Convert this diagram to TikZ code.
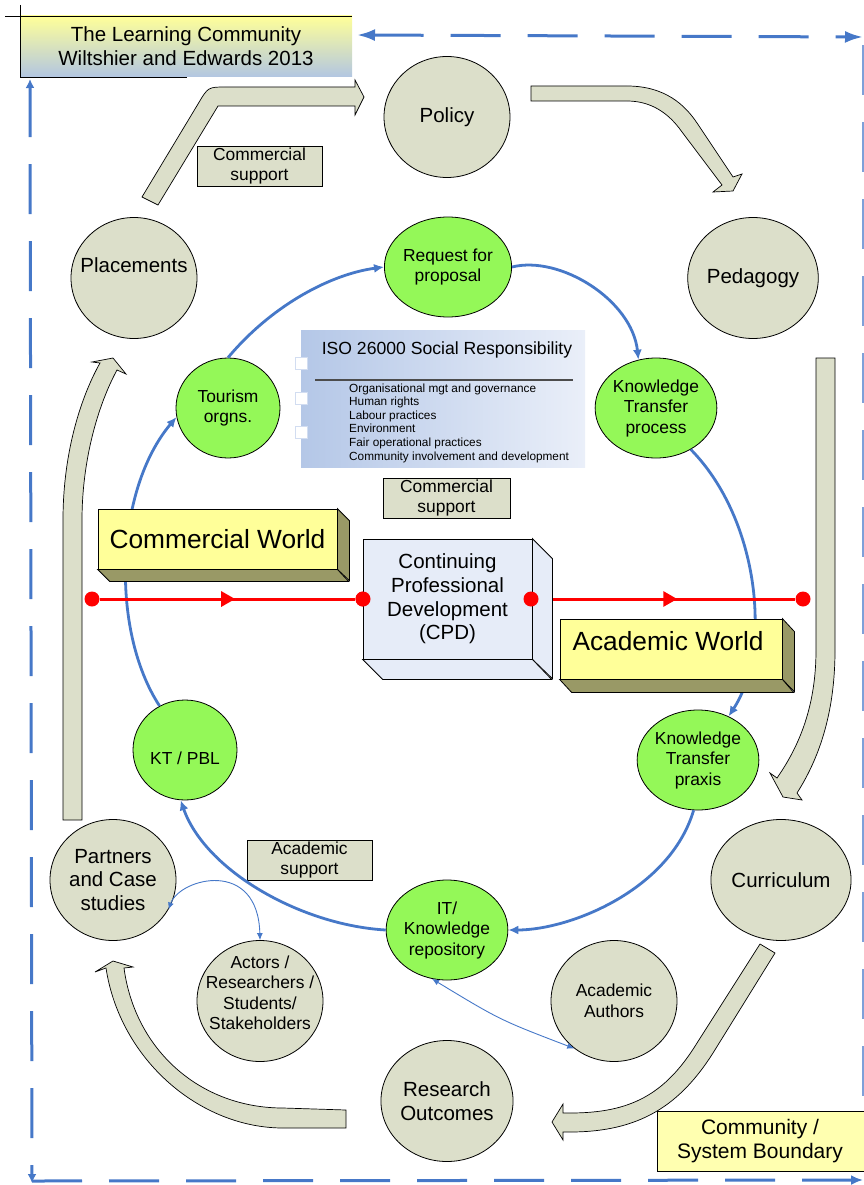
\documentclass[tikz,border=0pt]{standalone}
\usepackage{fontspec}
\setmainfont{Liberation Sans}
\usetikzlibrary{shapes.geometric,arrows.meta,decorations.markings}
\definecolor{beige}{RGB}{220,223,202}
\definecolor{lgreen}{RGB}{148,248,88}
\definecolor{bblue}{RGB}{70,120,200}
\definecolor{yel}{RGB}{255,255,153}
\definecolor{olive}{RGB}{153,153,102}
\definecolor{cpdfill}{RGB}{230,236,248}
\definecolor{isoL}{RGB}{180,199,231}
\definecolor{isoR}{RGB}{234,239,249}
\definecolor{titleB}{RGB}{178,198,226}
\definecolor{commY}{RGB}{255,255,176}
\begin{document}
\begin{tikzpicture}[x=1pt,y=-1pt,
  f20/.style={font=\fontsize{20.5}{23.7}\selectfont},
  f21/.style={font=\fontsize{21}{23.5}\selectfont},
  f17/.style={font=\fontsize{17.4}{20.5}\selectfont},
  f26/.style={font=\fontsize{26.3}{30}\selectfont},
  f12/.style={font=\fontsize{11.8}{13.6}\selectfont},
  txt/.style={inner sep=0pt, align=center},
  bigc/.style={ellipse, draw=black, line width=0.8pt, fill=beige, minimum width=126pt, minimum height=121pt, inner sep=0pt, align=center, f20},
  grc/.style={ellipse, draw=black, line width=0.8pt, fill=lgreen, minimum width=104pt, minimum height=100pt, inner sep=0pt, align=center, f17},
  supbox/.style={rectangle, draw=black, line width=0.9pt, fill=beige, minimum width=125pt, minimum height=40pt, inner sep=0pt, align=center, f17},
  bigarrow/.style={fill=beige, draw=black, line width=0.7pt, line join=miter},
  bluearc/.style={draw=bblue, line width=2.8pt, -{Latex[length=10pt,width=9pt]}},
  thinarc/.style={draw=bblue, line width=0.9pt, {Latex[length=7pt,width=6pt]}-{Latex[length=7pt,width=6pt]}},
  bdash/.style={draw=bblue, line width=3pt, dash pattern=on 50pt off 27pt},
  redline/.style={draw=red, line width=3pt},
  reddot/.style={circle, fill=red, minimum size=15pt, inner sep=0pt},
  face/.style={draw=black, line width=0.8pt, line join=miter},
]
\useasboundingbox (0,0) rectangle (864,1185);

% ---------- dashed boundary ----------
\coordinate (bt1) at (357,35);
\coordinate (bt2) at (863,37);
\coordinate (bl1) at (30,79);
\coordinate (bl2) at (32,1183);
\coordinate (bb1) at (32,1181);
\coordinate (bb2) at (863,1180);
\coordinate (br1) at (863,45);
\coordinate (br2) at (863,1172);
\draw[bdash, {Latex[length=18pt,width=12pt]}-{Latex[length=18pt,width=12pt]}] (bt1) -- (bt2);
\draw[bdash, {Latex[length=9pt,width=9pt]}-{Latex[length=9pt,width=9pt]}] (bl1) -- (bl2);
\draw[bdash, -{Latex[length=12pt,width=10pt]}] (bb1) -- (bb2);
\draw[bdash, draw=bblue!70] (br1) -- (br2);

% ---------- title ----------
\node[txt, f20, top color=yel, bottom color=titleB, minimum width=332pt, minimum height=61pt] (title) at (186,46.5) {The Learning Community\\Wiltshier and Edwards 2013};
\draw[line width=0.9pt] (5,16) -- (352,16);
\draw[line width=0.9pt] (20,5) -- (20,77);
\draw[line width=0.9pt] (20,77) -- (187,77);

% ---------- big block arrows ----------
\draw[bigarrow] (142,197) -- (198,104) .. controls (208,87) .. (226,87) -- (355,87) -- (355,80) -- (364,97) -- (355,115) -- (355,106) -- (218,106) -- (158,205) -- cycle;
\draw[bigarrow] (531,86) -- (627,86) .. controls (665,86) and (685,105) .. (697,123) -- (733,177) -- (742,174) -- (733,191) -- (713,192) -- (722,185) -- (682,132) .. controls (668,112) and (650,101) .. (627,101) -- (531,101) -- cycle;
\draw[bigarrow] (816,358) -- (835,358) -- (835,650) .. controls (835,715) and (818,760) .. (797,793) -- (802,800) -- (783,797) -- (770,773) -- (777,778) .. controls (800,745) and (816,705) .. (816,650) -- cycle;
\draw[bigarrow] (760,944) -- (775,953) -- (713,1053) .. controls (680,1105) and (640,1132) .. (570,1132) -- (563,1132) -- (563,1140) -- (552,1122) -- (563,1104) -- (563,1113) -- (570,1113) .. controls (630,1113) and (665,1095) .. (697,1043) -- cycle;
\draw[bigarrow] (346,1110) -- (346,1128) -- (283,1128) .. controls (200,1128) and (120,1060) .. (106,968) -- (95,972) -- (113,961) -- (133,967) -- (124,968) .. controls (135,1050) and (200,1108) .. (283,1108) -- cycle;
\draw[bigarrow] (63,820) -- (63,520) .. controls (63,450) and (82,395) .. (100,363) -- (92,362) -- (113,358) -- (126,374) -- (117,370) .. controls (98,405) and (82,460) .. (82,520) -- (82,820) -- cycle;

% ---------- beige circles ----------
\node[bigc] (pol) at (447,117) {Policy};
\node[bigc] (ped) at (753,278) {Pedagogy};
\node[bigc] (cur) at (781,880) {Curriculum};
\node[bigc] (res) at (447,1101) {Research\\Outcomes};
\node[bigc] (par) at (113,880) {Partners\\and Case\\studies};
\node[bigc] (plc) at (134,278) {};
\node[txt, f20] (plct) at (134,265) {Placements};
\node[bigc] (act) at (260,1001) {};
\node[txt, f17] (actt) at (260,993) {Actors /\\Researchers /\\Students/\\Stakeholders};
\node[bigc, f17] (aut) at (614,1001) {Academic\\Authors};

% ---------- support boxes ----------
\node[supbox] (cs1) at (259.5,166) {Commercial\\support};
\node[supbox, minimum width=127pt] (cs2) at (446.5,498) {Commercial\\support};
\node[supbox] (as1) at (309.5,860) {Academic\\support};

% ---------- ISO box ----------
\shade[left color=isoL, right color=isoR] (301,330) rectangle (585,467);
\foreach \yy in {357,392,426} {
  \draw[draw=isoL!60, fill=white, line width=0.5pt] (295,\yy) rectangle (307,\yy+12);
}
\node[txt, font=\fontsize{17.6}{20}\selectfont] (isot) at (447,350) {ISO 26000 Social Responsibility};
\draw[draw=black!70, line width=1.4pt] (315,380) -- (573,380);
\node[txt, f12, align=left, anchor=west] (isoi) at (349,423) {Organisational mgt and governance\\Human rights\\Labour practices\\Environment\\Fair operational practices\\Community involvement and development};

% ---------- green circles and blue cycle arcs ----------
\node[grc] (req) at (448,267) {Request for\\proposal};
\node[grc] (kp) at (656,408) {Knowledge\\Transfer\\process};
\node[grc] (tour) at (228,408) {Tourism\\orgns.};
\node[grc] (kt) at (185,750) {};
\node[txt, f17] (ktt) at (185,758) {KT / PBL};
\node[grc] (kpx) at (698,760) {Knowledge\\Transfer\\praxis};
\node[grc] (it) at (447,930) {IT/\\Knowledge\\repository};

\draw[bluearc] (tour.north) .. controls (273,304) and (332,274) .. (req.west);
\draw[bluearc] (req.east) .. controls (560,255) and (632,300) .. (kp.110);
\draw[bluearc] (kp.-50) .. controls (760,520) and (772,650) .. (kpx.55);
\draw[bluearc] (kpx.-95) .. controls (670,890) and (570,930) .. (it.east);
\draw[bluearc] (it.west) .. controls (300,925) and (205,870) .. (kt.-95);
\draw[bluearc] (kt.120) .. controls (110,630) and (115,490) .. (tour.190);

\draw[thinarc] (par.-28) .. controls (180,878) and (258,858) .. (act.north);
\draw[thinarc] (it.-107) .. controls (500,1020) .. (aut.-130);

% ---------- red line ----------
\node[reddot] (r1) at (92,599) {};
\node[reddot] (r2) at (363,599) {};
\node[reddot] (r3) at (531,599) {};
\node[reddot] (r4) at (803,599) {};
\draw[redline, decoration={markings, mark=at position 0.53 with {\arrow{Triangle[length=14pt,width=15pt]}}}, postaction=decorate] (r1) -- (r2);
\draw[redline, decoration={markings, mark=at position 0.54 with {\arrow{Triangle[length=14pt,width=15pt]}}}, postaction=decorate] (r3) -- (r4);

% ---------- CPD 3D box ----------
\node[face, fill=cpdfill, minimum width=169pt, minimum height=120pt, inner sep=0pt, align=center, f20] (cpd) at (447.5,599) {Continuing\\Professional\\Development\\(CPD)};
\draw[face, fill=cpdfill] (cpd.north east) -- ++(20,20) -- ++(0,120) -- (cpd.south east) -- cycle;
\draw[face, fill=cpdfill] (cpd.south west) -- ++(20,20) -- ++(169,0) -- (cpd.south east) -- cycle;
\node[reddot] (r2b) at (363,599) {};
\node[reddot] (r3b) at (531,599) {};

% ---------- world boxes ----------
\node[face, fill=yel, minimum width=239pt, minimum height=60pt, inner sep=0pt, f26] (cw) at (217.5,539) {Commercial World};
\draw[face, fill=olive] (cw.north east) -- ++(12,12) -- ++(0,60) -- (cw.south east) -- cycle;
\draw[face, fill=olive] (cw.south west) -- ++(12,12) -- ++(239,0) -- (cw.south east) -- cycle;

\node[face, fill=yel, minimum width=222pt, minimum height=60pt, inner sep=0pt] (aw) at (671,649) {};
\node[txt, f26] (awt) at (668,641) {Academic World};
\draw[face, fill=olive] (aw.north east) -- ++(12,13) -- ++(0,60) -- (aw.south east) -- cycle;
\draw[face, fill=olive] (aw.south west) -- ++(12,13) -- ++(222,0) -- (aw.south east) -- cycle;

% ---------- community box ----------
\node[face, fill=commY, minimum width=213pt, minimum height=60pt, inner sep=0pt, anchor=north west] (comm) at (657,1111) {};
\node[txt, f21] (commt) at (760,1141) {Community /\\System Boundary};
\end{tikzpicture}
\end{document}
